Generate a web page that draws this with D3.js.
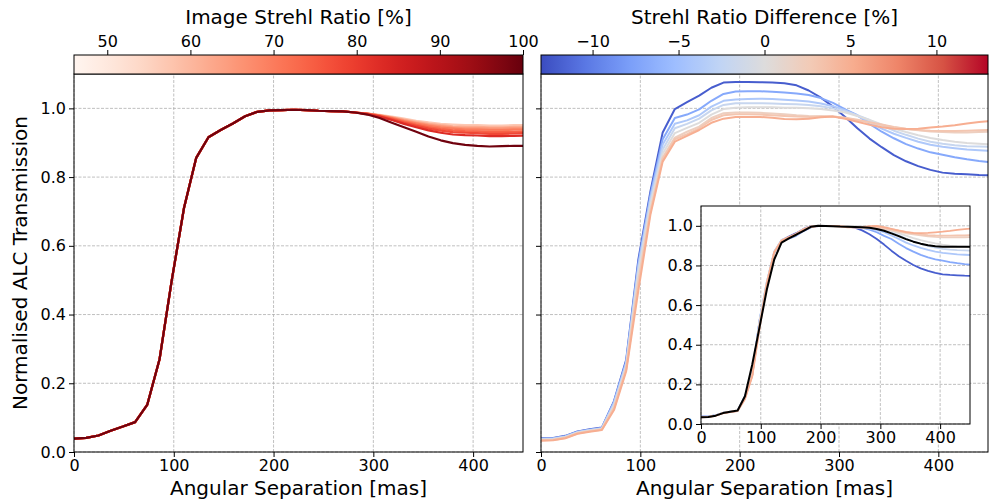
<!DOCTYPE html>
<html>
<head>
<meta charset="utf-8">
<script src="https://cdn.jsdelivr.net/npm/d3@7"></script>
<style>
body { margin: 0; background: #fff; }
svg { font-family: "DejaVu Sans", sans-serif; }
</style>
</head>
<body>
<div id="chart"></div>
<script>
"use strict";

// Angular separation grid [mas]
var sep = [0, 12.25, 24.5, 36.75, 49, 61.25, 73.5, 85.75, 98, 110.25, 122.5, 134.75, 147, 159.25,
    171.5, 183.75, 196, 208.25, 220.5, 232.75, 245, 257.25, 269.5, 281.75, 294, 306.25, 318.5,
    330.75, 343, 355.25, 367.5, 379.75, 392, 404.25, 416.5, 428.75, 441, 453.25];

// Left panel: image Strehl ratio of each curve [%]
var strehl = [57, 62, 66, 70, 74, 78, 83, 99];

// All left curves overlap up to ~280 mas
var leftHead = [0.039, 0.041, 0.048, 0.062, 0.074, 0.087, 0.138, 0.270, 0.500, 0.710, 0.856, 0.916,
    0.937, 0.956, 0.977, 0.990, 0.994, 0.995, 0.996, 0.995, 0.993, 0.992, 0.991, 0.988];

// Left curves from 294 mas on, one row per Strehl value
var leftTails = [
    [0.985, 0.981, 0.976, 0.970, 0.964, 0.959, 0.955, 0.953, 0.951, 0.951, 0.950, 0.950, 0.951, 0.951],
    [0.985, 0.980, 0.974, 0.967, 0.961, 0.955, 0.951, 0.948, 0.946, 0.946, 0.945, 0.945, 0.946, 0.946],
    [0.985, 0.980, 0.973, 0.965, 0.958, 0.952, 0.948, 0.944, 0.942, 0.942, 0.941, 0.941, 0.942, 0.942],
    [0.985, 0.979, 0.972, 0.963, 0.956, 0.949, 0.944, 0.941, 0.938, 0.938, 0.937, 0.937, 0.938, 0.938],
    [0.984, 0.978, 0.970, 0.961, 0.952, 0.945, 0.940, 0.936, 0.934, 0.933, 0.931, 0.931, 0.932, 0.933],
    [0.984, 0.977, 0.968, 0.958, 0.949, 0.941, 0.935, 0.931, 0.929, 0.928, 0.926, 0.926, 0.927, 0.928],
    [0.983, 0.976, 0.966, 0.955, 0.945, 0.936, 0.929, 0.924, 0.922, 0.921, 0.919, 0.919, 0.920, 0.921],
    [0.982, 0.972, 0.958, 0.945, 0.932, 0.918, 0.907, 0.899, 0.894, 0.891, 0.889, 0.890, 0.891, 0.891]
];

// Right panel: Strehl ratio difference of each curve [%]
var diffs = [-12, -7, -4, -2, 0, 2, 3, 5];

var rightCurves = [
    [0.040, 0.041, 0.047, 0.060, 0.066, 0.071, 0.148, 0.268, 0.560, 0.760, 0.930, 0.998, 1.018, 1.037, 1.060, 1.075, 1.077, 1.077, 1.076, 1.075, 1.073, 1.067, 1.052, 1.031, 1.005, 0.975, 0.942, 0.912, 0.887, 0.864, 0.846, 0.832, 0.821, 0.813, 0.810, 0.808, 0.806, 0.805],
    [0.039, 0.040, 0.046, 0.059, 0.065, 0.070, 0.146, 0.264, 0.550, 0.750, 0.910, 0.972, 0.982, 0.997, 1.022, 1.042, 1.049, 1.050, 1.050, 1.048, 1.046, 1.043, 1.039, 1.030, 1.016, 0.997, 0.980, 0.955, 0.932, 0.913, 0.896, 0.883, 0.872, 0.865, 0.858, 0.852, 0.847, 0.843],
    [0.038, 0.039, 0.045, 0.058, 0.064, 0.069, 0.143, 0.258, 0.540, 0.740, 0.895, 0.955, 0.965, 0.980, 1.005, 1.022, 1.026, 1.027, 1.028, 1.027, 1.025, 1.023, 1.020, 1.014, 1.006, 0.995, 0.978, 0.960, 0.941, 0.926, 0.914, 0.903, 0.894, 0.888, 0.884, 0.880, 0.878, 0.876],
    [0.037, 0.038, 0.044, 0.057, 0.063, 0.068, 0.138, 0.253, 0.530, 0.730, 0.880, 0.942, 0.955, 0.970, 0.994, 1.010, 1.015, 1.015, 1.015, 1.014, 1.013, 1.012, 1.010, 1.006, 1.000, 0.992, 0.980, 0.966, 0.950, 0.935, 0.923, 0.912, 0.903, 0.897, 0.893, 0.890, 0.889, 0.888],
    [0.036, 0.037, 0.043, 0.056, 0.062, 0.067, 0.134, 0.248, 0.520, 0.720, 0.868, 0.928, 0.943, 0.958, 0.982, 0.998, 1.002, 1.003, 1.003, 1.003, 1.002, 1.002, 1.000, 0.998, 0.994, 0.988, 0.978, 0.966, 0.953, 0.941, 0.931, 0.922, 0.914, 0.908, 0.903, 0.899, 0.897, 0.895],
    [0.035, 0.036, 0.042, 0.055, 0.061, 0.066, 0.130, 0.243, 0.500, 0.705, 0.857, 0.915, 0.932, 0.947, 0.972, 0.986, 0.988, 0.988, 0.987, 0.985, 0.983, 0.980, 0.978, 0.977, 0.976, 0.972, 0.965, 0.958, 0.951, 0.945, 0.940, 0.936, 0.933, 0.931, 0.930, 0.930, 0.931, 0.932],
    [0.034, 0.035, 0.041, 0.054, 0.060, 0.065, 0.127, 0.240, 0.490, 0.700, 0.853, 0.910, 0.925, 0.942, 0.966, 0.980, 0.983, 0.983, 0.982, 0.980, 0.978, 0.976, 0.975, 0.976, 0.976, 0.973, 0.967, 0.960, 0.953, 0.946, 0.941, 0.937, 0.935, 0.934, 0.934, 0.935, 0.936, 0.937],
    [0.033, 0.034, 0.040, 0.053, 0.059, 0.064, 0.122, 0.235, 0.470, 0.692, 0.845, 0.903, 0.920, 0.937, 0.958, 0.970, 0.975, 0.975, 0.975, 0.973, 0.969, 0.968, 0.970, 0.974, 0.976, 0.970, 0.961, 0.952, 0.945, 0.941, 0.940, 0.941, 0.944, 0.947, 0.951, 0.956, 0.960, 0.963]
];

// Inset black reference curve (already normalised)
var insetRef = [0.034, 0.035, 0.042, 0.055, 0.062, 0.068, 0.140, 0.300, 0.490, 0.680, 0.830, 0.915,
    0.937, 0.955, 0.975, 0.995, 1.000, 0.999, 0.998, 0.996, 0.995, 0.994, 0.993, 0.990, 0.984, 0.975,
    0.962, 0.948, 0.933, 0.920, 0.910, 0.902, 0.897, 0.895, 0.894, 0.894, 0.895, 0.895];

var sepTicks = [0, 100, 200, 300, 400];
var transTicks = [0, 0.2, 0.4, 0.6, 0.8, 1.0];
var strehlTicks = [50, 60, 70, 80, 90, 100];
var diffTicks = [-10, -5, 0, 5, 10];

// matplotlib "coolwarm" sampled at 11 points
var coolwarmStops = ["#3b4cc0", "#5a78e4", "#7b9ff9", "#9ebeff", "#c0d4f5", "#dddcdc",
    "#f2cbb7", "#f7ac8e", "#ee8468", "#d65244", "#b40426"];

var W = 989, H = 502;
var TOP = 74, BOTTOM = 452;
var TICK_FONT = 16, LABEL_FONT = 20;

var svg = d3.select("#chart").append("svg")
    .attr("width", W)
    .attr("height", H);
var defs = svg.append("defs");

var yMain = d3.scaleLinear().domain([0, 1.1]).range([BOTTOM, TOP]);
var xLeft = d3.scaleLinear().domain([0, 450]).range([74, 523]);
var xRight = d3.scaleLinear().domain([0, 450]).range([541, 988]);
var xInset = d3.scaleLinear().domain([0, 450]).range([701, 970]);
var yInset = d3.scaleLinear().domain([0, 1.1]).range([424, 206]);

var strehlDomain = [46, 100];
var diffDomain = [-13, 13];
var strehlColor = function (v) {
    return d3.interpolateReds((v - strehlDomain[0]) / (strehlDomain[1] - strehlDomain[0]));
};
var diffColor = d3.scaleLinear()
    .domain(d3.range(coolwarmStops.length).map(function (i) {
        return diffDomain[0] + i * (diffDomain[1] - diffDomain[0]) / (coolwarmStops.length - 1);
    }))
    .range(coolwarmStops);

var fmtTrans = d3.format(".1f");
var fmtDiff = function (d) { return d < 0 ? "\u2212" + Math.abs(d) : String(d); };

function clipFor(id, x, y) {
    defs.append("clipPath").attr("id", id).append("rect")
        .attr("x", x.range()[0]).attr("y", y.range()[1])
        .attr("width", x.range()[1] - x.range()[0])
        .attr("height", y.range()[0] - y.range()[1]);
    return "url(#" + id + ")";
}

function drawGrid(g, x, y) {
    sepTicks.forEach(function (t) {
        g.append("line")
            .attr("x1", x(t)).attr("x2", x(t))
            .attr("y1", y.range()[0]).attr("y2", y.range()[1])
            .attr("stroke", "#b0b0b0").attr("stroke-width", 0.8)
            .attr("stroke-dasharray", "3,1.5");
    });
    transTicks.forEach(function (t) {
        g.append("line")
            .attr("x1", x.range()[0]).attr("x2", x.range()[1])
            .attr("y1", y(t)).attr("y2", y(t))
            .attr("stroke", "#b0b0b0").attr("stroke-width", 0.8)
            .attr("stroke-dasharray", "3,1.5");
    });
}

function styleAxis(sel) {
    sel.select(".domain").remove();
    sel.selectAll(".tick line").attr("stroke", "#000").attr("stroke-width", 1);
    sel.selectAll(".tick text")
        .attr("fill", "#000")
        .style("font-size", TICK_FONT + "px")
        .style("font-family", "DejaVu Sans, sans-serif");
}

function drawAxes(x, y, withYLabels) {
    svg.append("g")
        .attr("transform", "translate(0," + y.range()[0] + ")")
        .call(d3.axisBottom(x).tickValues(sepTicks).tickSize(5).tickPadding(3))
        .call(styleAxis);
    svg.append("g")
        .attr("transform", "translate(" + x.range()[0] + ",0)")
        .call(d3.axisLeft(y).tickValues(transTicks).tickSize(5).tickPadding(3)
            .tickFormat(withYLabels ? fmtTrans : ""))
        .call(styleAxis);
}

function drawFrame(x, y) {
    svg.append("rect")
        .attr("x", x.range()[0]).attr("y", y.range()[1])
        .attr("width", x.range()[1] - x.range()[0])
        .attr("height", y.range()[0] - y.range()[1])
        .attr("fill", "none").attr("stroke", "#000").attr("stroke-width", 1);
}

function drawColorbar(id, x, domain, colorOf, ticks, fmt, title) {
    var grad = defs.append("linearGradient").attr("id", id);
    d3.range(0, 51).forEach(function (i) {
        var t = i / 50;
        grad.append("stop")
            .attr("offset", t)
            .attr("stop-color", colorOf(domain[0] + t * (domain[1] - domain[0])));
    });
    var x0 = x.range()[0], x1 = x.range()[1];
    svg.append("rect")
        .attr("x", x0).attr("y", 55)
        .attr("width", x1 - x0).attr("height", TOP - 55)
        .attr("fill", "url(#" + id + ")")
        .attr("stroke", "#000").attr("stroke-width", 1);
    var cx = d3.scaleLinear().domain(domain).range([x0, x1]);
    svg.append("g")
        .attr("transform", "translate(0,55)")
        .call(d3.axisTop(cx).tickValues(ticks).tickFormat(fmt).tickSize(5).tickPadding(3))
        .call(styleAxis);
    svg.append("text")
        .attr("x", (x0 + x1) / 2).attr("y", 24)
        .attr("text-anchor", "middle")
        .style("font-size", LABEL_FONT + "px")
        .text(title);
}

function lineFor(x, y) {
    return d3.line()
        .x(function (d, i) { return x(sep[i]); })
        .y(function (d) { return y(d); });
}

// ---------- Left panel ----------
var gLeft = svg.append("g");
drawGrid(gLeft, xLeft, yMain);
var leftLine = lineFor(xLeft, yMain);
var gLeftLines = svg.append("g").attr("clip-path", clipFor("clipLeft", xLeft, yMain));
strehl.forEach(function (s, k) {
    gLeftLines.append("path")
        .attr("d", leftLine(leftHead.concat(leftTails[k])))
        .attr("fill", "none")
        .attr("stroke", strehlColor(s))
        .attr("stroke-width", 2.2)
        .attr("stroke-linejoin", "round");
});
drawAxes(xLeft, yMain, true);
drawFrame(xLeft, yMain);
drawColorbar("gradReds", xLeft, strehlDomain, strehlColor, strehlTicks, d3.format("d"),
    "Image Strehl Ratio [%]");

svg.append("text")
    .attr("transform", "translate(27," + (TOP + BOTTOM) / 2 + ") rotate(-90)")
    .attr("text-anchor", "middle")
    .style("font-size", LABEL_FONT + "px")
    .text("Normalised ALC Transmission");

// ---------- Right panel ----------
var gRight = svg.append("g");
drawGrid(gRight, xRight, yMain);
var rightLine = lineFor(xRight, yMain);
var gRightLines = svg.append("g").attr("clip-path", clipFor("clipRight", xRight, yMain));
diffs.forEach(function (dv, k) {
    gRightLines.append("path")
        .attr("d", rightLine(rightCurves[k]))
        .attr("fill", "none")
        .attr("stroke", diffColor(dv))
        .attr("stroke-width", 2)
        .attr("stroke-linejoin", "round");
});
drawAxes(xRight, yMain, false);
drawFrame(xRight, yMain);
drawColorbar("gradCoolwarm", xRight, diffDomain, diffColor, diffTicks, fmtDiff,
    "Strehl Ratio Difference [%]");

[xLeft, xRight].forEach(function (x) {
    svg.append("text")
        .attr("x", (x.range()[0] + x.range()[1]) / 2).attr("y", 495)
        .attr("text-anchor", "middle")
        .style("font-size", LABEL_FONT + "px")
        .text("Angular Separation [mas]");
});

// ---------- Inset ----------
svg.append("rect")
    .attr("x", xInset.range()[0]).attr("y", yInset.range()[1])
    .attr("width", xInset.range()[1] - xInset.range()[0])
    .attr("height", yInset.range()[0] - yInset.range()[1])
    .attr("fill", "#fff");
var gInset = svg.append("g");
drawGrid(gInset, xInset, yInset);
var insetLine = lineFor(xInset, yInset);
var gInsetLines = svg.append("g").attr("clip-path", clipFor("clipInset", xInset, yInset));
diffs.forEach(function (dv, k) {
    var peak = d3.max(rightCurves[k]);
    gInsetLines.append("path")
        .attr("d", insetLine(rightCurves[k].map(function (v) { return v / peak; })))
        .attr("fill", "none")
        .attr("stroke", diffColor(dv))
        .attr("stroke-width", 1.8)
        .attr("stroke-linejoin", "round");
});
gInsetLines.append("path")
    .attr("d", insetLine(insetRef))
    .attr("fill", "none")
    .attr("stroke", "#000")
    .attr("stroke-width", 2)
    .attr("stroke-linejoin", "round");
drawAxes(xInset, yInset, true);
drawFrame(xInset, yInset);
</script>
</body>
</html>
